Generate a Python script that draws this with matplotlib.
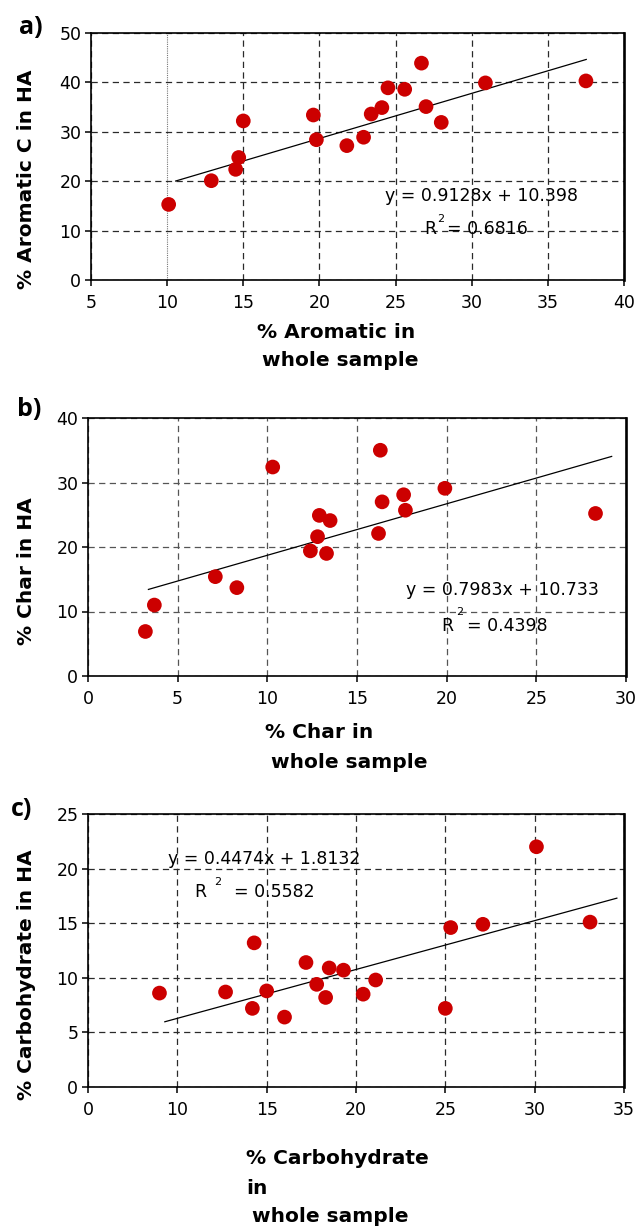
import matplotlib
matplotlib.use("Agg")
import matplotlib.pyplot as plt
import numpy as np

# a) aromatic
arom_whole = [10.1, 12.9, 14.5, 14.7, 15.0, 19.6, 19.8, 21.8, 22.9, 23.4, 24.1, 24.5, 25.6, 26.7, 27.0, 28.0, 30.9, 37.5]
arom_ha = [15.3, 20.1, 22.4, 24.8, 32.2, 33.4, 28.4, 27.2, 28.9, 33.6, 34.9, 38.9, 38.6, 43.9, 35.1, 31.9, 39.9, 40.3]
arom_fit = (0.9128, 10.398)
arom_fit_x = [10.56, 37.52]
arom_r2 = "0.6816"

# b) char
char_whole = [3.2, 3.7, 7.1, 8.3, 10.3, 12.4, 12.8, 12.9, 13.5, 13.3, 16.2, 16.3, 16.4, 17.6, 17.7, 19.9, 28.3]
char_ha = [6.9, 11.0, 15.4, 13.7, 32.4, 19.4, 21.6, 24.9, 24.1, 19.0, 22.1, 35.0, 27.0, 28.1, 25.7, 29.1, 25.2]
char_fit = (0.7983, 10.733)
char_fit_x = [3.37, 29.2]
char_r2 = "0.4398"

# c) carbohydrate
carb_whole = [9.0, 12.7, 14.2, 14.3, 15.0, 16.0, 17.2, 17.8, 18.3, 18.5, 19.3, 20.4, 21.1, 25.0, 25.3, 27.1, 30.1, 33.1]
carb_ha = [8.6, 8.7, 7.2, 13.2, 8.8, 6.4, 11.4, 9.4, 8.2, 10.9, 10.7, 8.5, 9.8, 7.2, 14.6, 14.9, 22.0, 15.1]
carb_fit = (0.4474, 1.8132)
carb_fit_x = [9.3, 34.6]
carb_r2 = "0.5582"

arom_xticks = [5, 10, 15, 20, 25, 30, 35, 40]
arom_yticks = [0, 10, 20, 30, 40, 50]
char_xticks = [0, 5, 10, 15, 20, 25, 30]
char_yticks = [0, 10, 20, 30, 40]
carb_xticks = [5, 10, 15, 20, 25, 30, 35]
carb_xticklabels = ["0", "10", "15", "20", "25", "30", "35"]
carb_yticks = [0, 5, 10, 15, 20, 25]

W, H = 644, 1228
dot_color = "#cc0000"

plt.rcParams.update({
    "font.family": ["DejaVu Sans"],
    "font.size": 12.5,
    "xtick.labelsize": 12.5,
    "ytick.labelsize": 12.5,
})


def px_axes(fig, left, right, top, bottom):
    return fig.add_axes([left / W, 1 - bottom / H, (right - left) / W, (bottom - top) / H])


def style_axes(ax, xticks, yticks, xlim, ylim, xticklabels=None, grid_color="#2a2a2a"):
    ax.set_xlim(*xlim)
    ax.set_ylim(*ylim)
    ax.set_xticks(xticks)
    ax.set_yticks(yticks)
    if xticklabels is not None:
        ax.set_xticklabels(xticklabels)
    ax.tick_params(axis="both", direction="out", length=4, width=1.1, color="black")
    ax.tick_params(axis="x", pad=6)
    ax.tick_params(axis="y", pad=3)
    for side in ["left", "bottom", "top"]:
        ax.spines[side].set_linewidth(1.2)
    ax.spines["right"].set_linewidth(1.9)
    ax.grid(True, color=grid_color, linestyle=(0, (5, 3.5)), linewidth=0.9)
    ax.set_axisbelow(True)


def draw_panel(ax, xs, ys, fit, fit_x):
    fx = np.array(fit_x)
    ax.plot(fx, fit[0] * fx + fit[1], color="black", lw=0.9, zorder=2)
    ax.scatter(xs, ys, s=112, color=dot_color, edgecolors="none", zorder=3)


fig = plt.figure(figsize=(W / 100, H / 100), dpi=100)

# ---- a)
ax1 = px_axes(fig, 91, 624, 33, 280)
style_axes(ax1, arom_xticks, arom_yticks, (5, 40), (0, 50))
# the x=10 gridline is a fine dotted one in the original
gl = ax1.get_xgridlines()[1]
gl.set_linestyle((0, (1, 1)))
gl.set_color("#777777")
gl.set_linewidth(0.8)
draw_panel(ax1, arom_whole, arom_ha, arom_fit, arom_fit_x)
ax1.text(24.3, 17.1, f"y = {arom_fit[0]}x + {arom_fit[1]}", va="center", ha="left")
ax1.text(26.9, 10.3, "R", va="center", ha="left")
ax1.text(27.75, 12.4, "2", va="center", ha="left", fontsize=8)
ax1.text(28.35, 10.3, f"= {arom_r2}", va="center", ha="left")

# ---- b)
ax2 = px_axes(fig, 88, 626, 418, 676)
style_axes(ax2, char_xticks, char_yticks, (0, 30), (0, 40), grid_color="#555555")
draw_panel(ax2, char_whole, char_ha, char_fit, char_fit_x)
ax2.text(17.75, 13.4, f"y = {char_fit[0]}x + {char_fit[1]}", va="center", ha="left")
ax2.text(19.7, 7.8, "R", va="center", ha="left")
ax2.text(20.55, 9.9, "2", va="center", ha="left", fontsize=8)
ax2.text(21.15, 7.8, f"= {char_r2}", va="center", ha="left")

# ---- c)
ax3 = px_axes(fig, 88, 624, 814, 1087)
style_axes(ax3, carb_xticks, carb_yticks, (5, 35), (0, 25), carb_xticklabels)
draw_panel(ax3, carb_whole, carb_ha, carb_fit, carb_fit_x)
ax3.text(9.45, 20.85, f"y = {carb_fit[0]}x + {carb_fit[1]}", va="center", ha="left")
ax3.text(10.95, 17.9, "R", va="center", ha="left")
ax3.text(12.05, 18.75, "2", va="center", ha="left", fontsize=8)
ax3.text(13.15, 17.9, f"= {carb_r2}", va="center", ha="left")

# axis labels and panel letters (figure pixel positions)
lab = dict(fontsize=14.5, fontweight="bold")


def ftext(x, y, s, **kw):
    fig.text(x / W, 1 - y / H, s, **kw)


ftext(27, 179, "% Aromatic C in HA", rotation=90, ha="center", va="center", **lab)
ftext(27, 571, "% Char in HA", rotation=90, ha="center", va="center", **lab)
ftext(27, 975, "% Carbohydrate in HA", rotation=90, ha="center", va="center", **lab)

ftext(336, 332, "% Aromatic in", ha="center", va="center", **lab)
ftext(340, 361, "whole sample", ha="center", va="center", **lab)
ftext(319, 733, "% Char in", ha="center", va="center", **lab)
ftext(349, 763, "whole sample", ha="center", va="center", **lab)
ftext(246, 1159, "% Carbohydrate", ha="left", va="center", **lab)
ftext(246, 1188, "in", ha="left", va="center", **lab)
ftext(252, 1217, "whole sample", ha="left", va="center", **lab)

letter = dict(fontsize=18, fontweight="bold", family=["Open Sans", "DejaVu Sans"])
ftext(31, 27, "a)", ha="center", va="center", **letter)
ftext(29, 410, "b)", ha="center", va="center", **letter)
ftext(22, 810, "c)", ha="center", va="center", **letter)

fig.savefig("out.png", dpi=100)
